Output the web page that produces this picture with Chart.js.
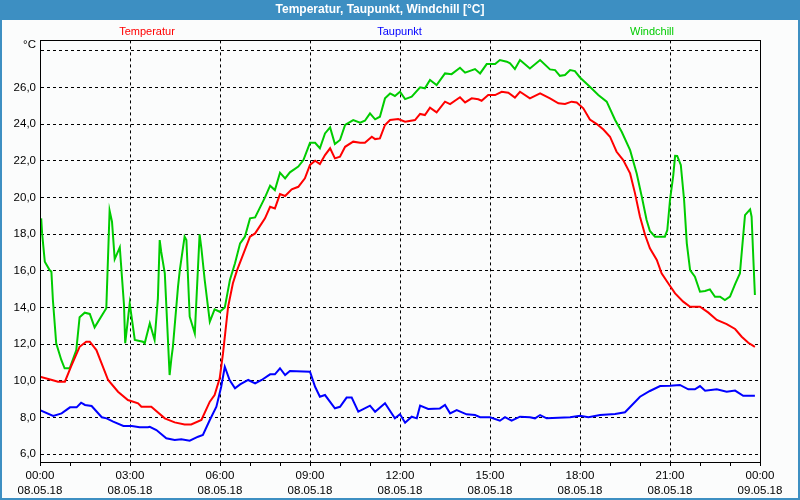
<!DOCTYPE html>
<html lang="de">
<head>
<meta charset="UTF-8" />
<title>Temperatur, Taupunkt, Windchill</title>
<script src="https://cdn.jsdelivr.net/npm/chart.js"></script>
<style>
  body { margin: 0; background: #fbfcfc; }
  canvas { display: block; }
</style>
</head>
<body>
<canvas id="wetterChart" width="800" height="500"></canvas>
<script>
// Zeitpunkte in Stunden ab 08.05.18 00:00
const tempHours = [0, 0.4, 0.6, 0.83, 1.04, 1.32, 1.54, 1.66, 1.88, 2.27, 2.6, 2.93, 3.27, 3.38, 3.71, 4.16, 4.49, 4.82, 5.04, 5.38, 5.66, 5.82, 5.99, 6.1, 6.27, 6.43, 6.57, 7.0, 7.17, 7.5, 7.67, 7.83, 8.0, 8.17, 8.39, 8.61, 8.83, 9.0, 9.17, 9.33, 9.5, 9.67, 9.83, 10.0, 10.17, 10.44, 10.67, 10.83, 11.06, 11.17, 11.33, 11.5, 11.67, 11.94, 12.17, 12.5, 12.67, 12.83, 13.0, 13.22, 13.5, 13.67, 14.0, 14.17, 14.39, 14.61, 14.72, 14.94, 15.17, 15.39, 15.61, 15.83, 16.0, 16.33, 16.67, 17.0, 17.28, 17.5, 17.72, 17.89, 18.11, 18.33, 18.56, 18.78, 19.0, 19.22, 19.44, 19.67, 19.83, 20.0, 20.17, 20.33, 20.56, 20.72, 20.94, 21.17, 21.44, 21.67, 22.0, 22.28, 22.56, 22.89, 23.17, 23.39, 23.61, 23.83];
const tempValues = [10.23, 10.05, 9.96, 9.96, 10.8, 11.86, 12.14, 12.14, 11.68, 10.05, 9.41, 8.96, 8.78, 8.59, 8.59, 7.96, 7.74, 7.63, 7.63, 7.87, 8.87, 9.23, 10.14, 11.5, 14.04, 15.32, 16.04, 17.86, 18.04, 18.86, 19.49, 19.4, 20.18, 20.08, 20.44, 20.58, 21.04, 21.77, 22.0, 21.82, 22.31, 22.68, 22.13, 22.22, 22.76, 23.04, 22.98, 22.98, 23.31, 23.18, 23.22, 23.95, 24.22, 24.27, 24.13, 24.22, 24.55, 24.49, 24.89, 24.64, 25.22, 25.09, 25.46, 25.18, 25.4, 25.35, 25.27, 25.58, 25.58, 25.76, 25.71, 25.44, 25.76, 25.4, 25.67, 25.4, 25.13, 25.09, 25.22, 25.18, 24.86, 24.25, 24.0, 23.7, 23.31, 22.49, 22.04, 21.31, 20.25, 18.95, 17.95, 17.23, 16.59, 15.86, 15.32, 14.77, 14.32, 14.04, 14.04, 13.72, 13.32, 13.1, 12.83, 12.41, 12.08, 11.86];

const dewHours = [0, 0.44, 0.72, 1.0, 1.22, 1.37, 1.5, 1.72, 2.06, 2.22, 2.44, 2.78, 3.06, 3.32, 3.6, 3.66, 3.88, 4.21, 4.49, 4.71, 4.99, 5.27, 5.43, 5.66, 5.88, 6.04, 6.16, 6.32, 6.5, 6.67, 6.94, 7.17, 7.39, 7.67, 7.83, 8.0, 8.17, 8.33, 9.0, 9.17, 9.33, 9.5, 9.83, 10.0, 10.22, 10.39, 10.61, 11.0, 11.17, 11.5, 11.83, 12.0, 12.17, 12.39, 12.56, 12.67, 12.94, 13.33, 13.5, 13.67, 13.89, 14.22, 14.5, 14.67, 15.0, 15.33, 15.5, 15.72, 16.0, 16.33, 16.5, 16.67, 16.89, 17.67, 18.0, 18.28, 18.67, 19.17, 19.5, 20.0, 20.33, 20.67, 21.0, 21.33, 21.61, 21.83, 22.0, 22.17, 22.56, 22.89, 23.17, 23.44, 23.83];
const dewValues = [8.41, 8.09, 8.23, 8.56, 8.56, 8.81, 8.69, 8.63, 8.02, 7.96, 7.78, 7.54, 7.54, 7.47, 7.47, 7.5, 7.32, 6.87, 6.78, 6.82, 6.74, 6.96, 7.05, 7.87, 8.59, 9.68, 10.77, 10.05, 9.6, 9.81, 10.05, 9.87, 10.05, 10.36, 10.36, 10.69, 10.32, 10.54, 10.5, 9.68, 9.14, 9.23, 8.51, 8.59, 9.09, 9.09, 8.32, 8.65, 8.32, 8.78, 7.96, 8.18, 7.72, 8.05, 7.96, 8.65, 8.47, 8.5, 8.69, 8.23, 8.41, 8.18, 8.14, 8.02, 8.02, 7.83, 8.02, 7.83, 8.05, 8.02, 7.96, 8.14, 7.96, 8.02, 8.1, 8.02, 8.14, 8.2, 8.29, 9.14, 9.45, 9.72, 9.74, 9.78, 9.54, 9.54, 9.72, 9.47, 9.54, 9.41, 9.47, 9.19, 9.19];

const chillHours = [0.04, 0.07, 0.16, 0.32, 0.38, 0.43, 0.54, 0.71, 0.82, 0.99, 1.21, 1.32, 1.49, 1.66, 1.82, 2.21, 2.32, 2.4, 2.49, 2.66, 2.8, 2.84, 2.91, 2.99, 3.16, 3.43, 3.49, 3.66, 3.82, 3.93, 3.99, 4.04, 4.16, 4.32, 4.38, 4.43, 4.6, 4.66, 4.82, 4.88, 4.99, 5.16, 5.32, 5.38, 5.49, 5.66, 5.82, 5.99, 6.16, 6.33, 6.5, 6.67, 6.83, 7.0, 7.17, 7.5, 7.67, 7.83, 8.0, 8.17, 8.33, 8.61, 8.78, 9.0, 9.17, 9.33, 9.5, 9.67, 9.83, 10.0, 10.17, 10.44, 10.67, 10.83, 11.0, 11.17, 11.33, 11.5, 11.67, 11.83, 12.0, 12.17, 12.39, 12.67, 12.83, 13.0, 13.22, 13.5, 13.72, 14.0, 14.17, 14.5, 14.67, 14.89, 15.17, 15.33, 15.56, 15.67, 15.83, 16.0, 16.33, 16.67, 17.0, 17.17, 17.33, 17.5, 17.67, 17.83, 18.0, 18.33, 18.61, 18.89, 19.17, 19.39, 19.67, 19.89, 20.06, 20.22, 20.33, 20.5, 20.83, 20.91, 21.0, 21.11, 21.17, 21.24, 21.36, 21.47, 21.56, 21.67, 21.83, 22.0, 22.17, 22.33, 22.5, 22.67, 22.83, 23.0, 23.17, 23.33, 23.5, 23.67, 23.72, 23.78, 23.83];
const chillValues = [18.86, 18.04, 16.5, 16.04, 15.95, 14.41, 12.05, 11.14, 10.69, 10.69, 11.68, 13.47, 13.72, 13.65, 12.92, 13.96, 19.28, 18.68, 16.64, 17.28, 14.14, 12.05, 13.05, 14.23, 12.23, 12.14, 12.05, 13.14, 12.23, 14.5, 17.68, 17.04, 15.86, 10.32, 11.23, 11.86, 15.13, 16.04, 17.86, 17.68, 13.5, 12.59, 17.99, 17.23, 15.5, 13.23, 13.9, 13.77, 14.0, 15.5, 16.41, 17.5, 17.86, 18.86, 18.91, 20.0, 20.64, 20.4, 21.35, 21.04, 21.37, 21.68, 22.04, 22.98, 22.98, 22.68, 23.49, 23.82, 22.91, 23.13, 23.95, 24.22, 24.07, 24.18, 24.58, 24.26, 24.4, 25.4, 25.67, 25.53, 25.76, 25.36, 25.49, 26.0, 25.95, 26.4, 26.13, 26.76, 26.72, 27.07, 26.8, 27.0, 26.76, 27.27, 27.27, 27.49, 27.4, 27.31, 27.0, 27.49, 27.03, 27.49, 26.98, 26.94, 26.63, 26.67, 26.94, 26.89, 26.54, 26.03, 25.58, 25.22, 24.22, 23.58, 22.58, 21.31, 20.04, 18.77, 18.17, 17.86, 17.86, 18.22, 19.86, 21.22, 22.27, 22.26, 21.77, 19.86, 17.5, 16.04, 15.68, 14.86, 14.9, 14.99, 14.59, 14.59, 14.41, 14.59, 15.28, 15.86, 19.04, 19.35, 18.95, 16.59, 14.68];

const xTickTimes = ["00:00", "03:00", "06:00", "09:00", "12:00", "15:00", "18:00", "21:00", "00:00"];
const xTickDates = ["08.05.18", "08.05.18", "08.05.18", "08.05.18", "08.05.18", "08.05.18", "08.05.18", "08.05.18", "09.05.18"];
const yTickValues = [6, 8, 10, 12, 14, 16, 18, 20, 22, 24, 26, 28];

const FONT = "'Liberation Sans', Arial, sans-serif";

function toPoints(hours, values) {
  return hours.map((h, i) => ({ x: h, y: values[i] }));
}

// Rahmen, Titelleiste, Legende oben
const framePlugin = {
  id: "frame",
  beforeDraw(chart) {
    const ctx = chart.ctx;
    ctx.save();
    ctx.fillStyle = "#fbfcfc";
    ctx.fillRect(0, 0, chart.width, chart.height);
    ctx.fillStyle = "#3d8fc2";
    ctx.fillRect(0, 0, chart.width, 20);
    ctx.fillRect(0, 0, 2, chart.height);
    ctx.fillRect(chart.width - 2, 0, 2, chart.height);
    ctx.fillRect(0, chart.height - 2, chart.width, 2);
    ctx.restore();
  },
  afterDraw(chart) {
    const ctx = chart.ctx;
    const a = chart.chartArea;
    ctx.save();
    ctx.strokeStyle = "#000";
    ctx.lineWidth = 1;
    ctx.strokeRect(Math.round(a.left) + 0.5, Math.round(a.top) + 0.5,
      Math.round(a.right - a.left), Math.round(a.bottom - a.top));

    ctx.font = "11px " + FONT;
    ctx.textAlign = "center";
    ctx.textBaseline = "middle";
    chart.data.datasets.forEach((ds, i) => {
      ctx.fillStyle = ds.borderColor;
      ctx.fillText(ds.label, 399.5 + (i - 1) * 252.5, 32);
    });

    ctx.fillStyle = "#000";
    ctx.textAlign = "right";
    ctx.font = "11.5px " + FONT;
    ctx.fillText("°C", 36, 45);
    ctx.restore();
  }
};

new Chart(document.getElementById("wetterChart"), {
  type: "line",
  data: {
    datasets: [
      { label: "Temperatur", data: toPoints(tempHours, tempValues), borderColor: "#ff0000" },
      { label: "Taupunkt", data: toPoints(dewHours, dewValues), borderColor: "#0000ff" },
      { label: "Windchill", data: toPoints(chillHours, chillValues), borderColor: "#00cc00" }
    ]
  },
  options: {
    responsive: false,
    animation: false,
    datasets: { line: { borderWidth: 2, pointRadius: 0, tension: 0, fill: false } },
    layout: { padding: { left: 0, right: 40, top: 0, bottom: 0 } },
    plugins: {
      legend: { display: false },
      tooltip: { enabled: false },
      title: {
        display: true,
        text: "Temperatur, Taupunkt, Windchill [°C]",
        color: "#ffffff",
        font: { family: FONT, size: 12, weight: "bold" },
        padding: { top: 2, bottom: 24 }
      }
    },
    scales: {
      x: {
        type: "linear",
        min: 0,
        max: 24,
        afterBuildTicks: scale => {
          scale.ticks = [];
          for (let h = 0; h <= 24; h++) scale.ticks.push({ value: h });
        },
        afterFit: scale => { scale.height = 38; },
        ticks: {
          autoSkip: false,
          maxRotation: 0,
          padding: 2,
          color: "#000",
          font: { family: FONT, size: 11.5, lineHeight: 1.3 },
          callback: v => v % 3 === 0 ? [xTickTimes[v / 3], xTickDates[v / 3]] : ""
        },
        grid: {
          color: c => (c.tick && c.tick.value % 3 === 0) ? "#000" : "rgba(0,0,0,0)",
          tickColor: "#000",
          tickLength: 4,
          tickBorderDash: [],
          lineWidth: 1
        },
        border: { display: true, color: "#000", width: 1, dash: [3, 3] }
      },
      y: {
        type: "linear",
        min: 5.58,
        max: 28.56,
        afterBuildTicks: scale => {
          scale.ticks = yTickValues.map(v => ({ value: v }));
        },
        afterFit: scale => { scale.width = 40; },
        ticks: {
          padding: 4,
          color: "#000",
          font: { family: FONT, size: 11.5 },
          callback: v => v === 28 ? "" : v.toFixed(1).replace(".", ",")
        },
        grid: { color: "#000", drawTicks: false, lineWidth: 1 },
        border: { display: true, color: "#000", width: 1, dash: [3, 3] }
      }
    }
  },
  plugins: [framePlugin]
});
</script>
</body>
</html>
